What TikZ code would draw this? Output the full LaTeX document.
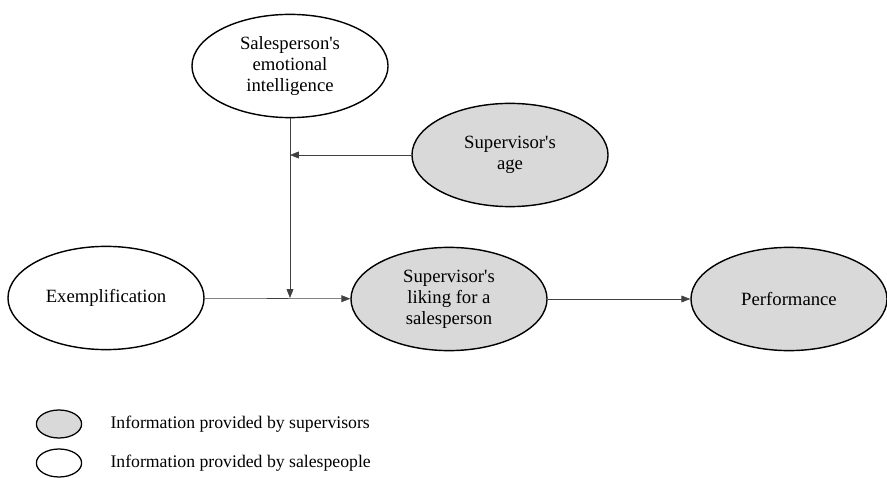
\documentclass[tikz,border=0pt]{standalone}
\usepackage{fontspec}
\setmainfont{Liberation Serif}
\usepackage{tikz}
\usetikzlibrary{positioning, arrows.meta, shapes.geometric}
\definecolor{supGray}{HTML}{D9D9D9}
\newcommand{\apo}{\textquotesingle}

\begin{document}
\begin{tikzpicture}[x=0.025cm, y=-0.025cm, node distance=6mm,
    construct/.style={draw, ellipse, line width=1pt, inner sep=0pt, align=center,
      minimum width=4.9cm, minimum height=2.58cm,
      font=\fontsize{13.3}{15}\selectfont},
    supv/.style={construct, fill=supGray},
    sales/.style={construct, fill=white},
    legbox/.style={draw, ellipse, line width=0.9pt, minimum width=1.13cm, minimum height=0.7cm},
    legtext/.style={font=\fontsize{12.6}{14}\selectfont, inner sep=0pt},
    arr/.style={-{Triangle[length=2.2mm, width=1.7mm]}, black!75}]
    \useasboundingbox (0,0) rectangle (887,478);
    \node[sales] (emot) at (290,66) {Salesperson\apo s \\ emotional \\ intelligence};
    \node[supv] (age) at (510,155) {Supervisor\apo s \\ age};
    \node[sales] (exem) at (106,298) {Exemplification};
    \node[supv] (liking) at (449,299) {Supervisor\apo s \\ liking for a \\ salesperson};
    \node[supv] (perf) at (789,299) {Performance};
    \draw[arr](exem)--(liking);\draw[arr](liking)--(perf);
    \draw[arr](emot.south)--(emot.south |- exem.east);
    \draw[arr](age.west)--(age.west -| emot.south);
    % legend
    \node[legbox, fill=supGray] (legsup) at (59,424) {};
    \node[legtext, right=7mm of legsup] {Information provided by supervisors};
    \node[legbox, fill=white] (legsal) at (59,463) {};
    \node[legtext, right=7mm of legsal] {Information provided by salespeople};
  \end{tikzpicture}
\end{document}
